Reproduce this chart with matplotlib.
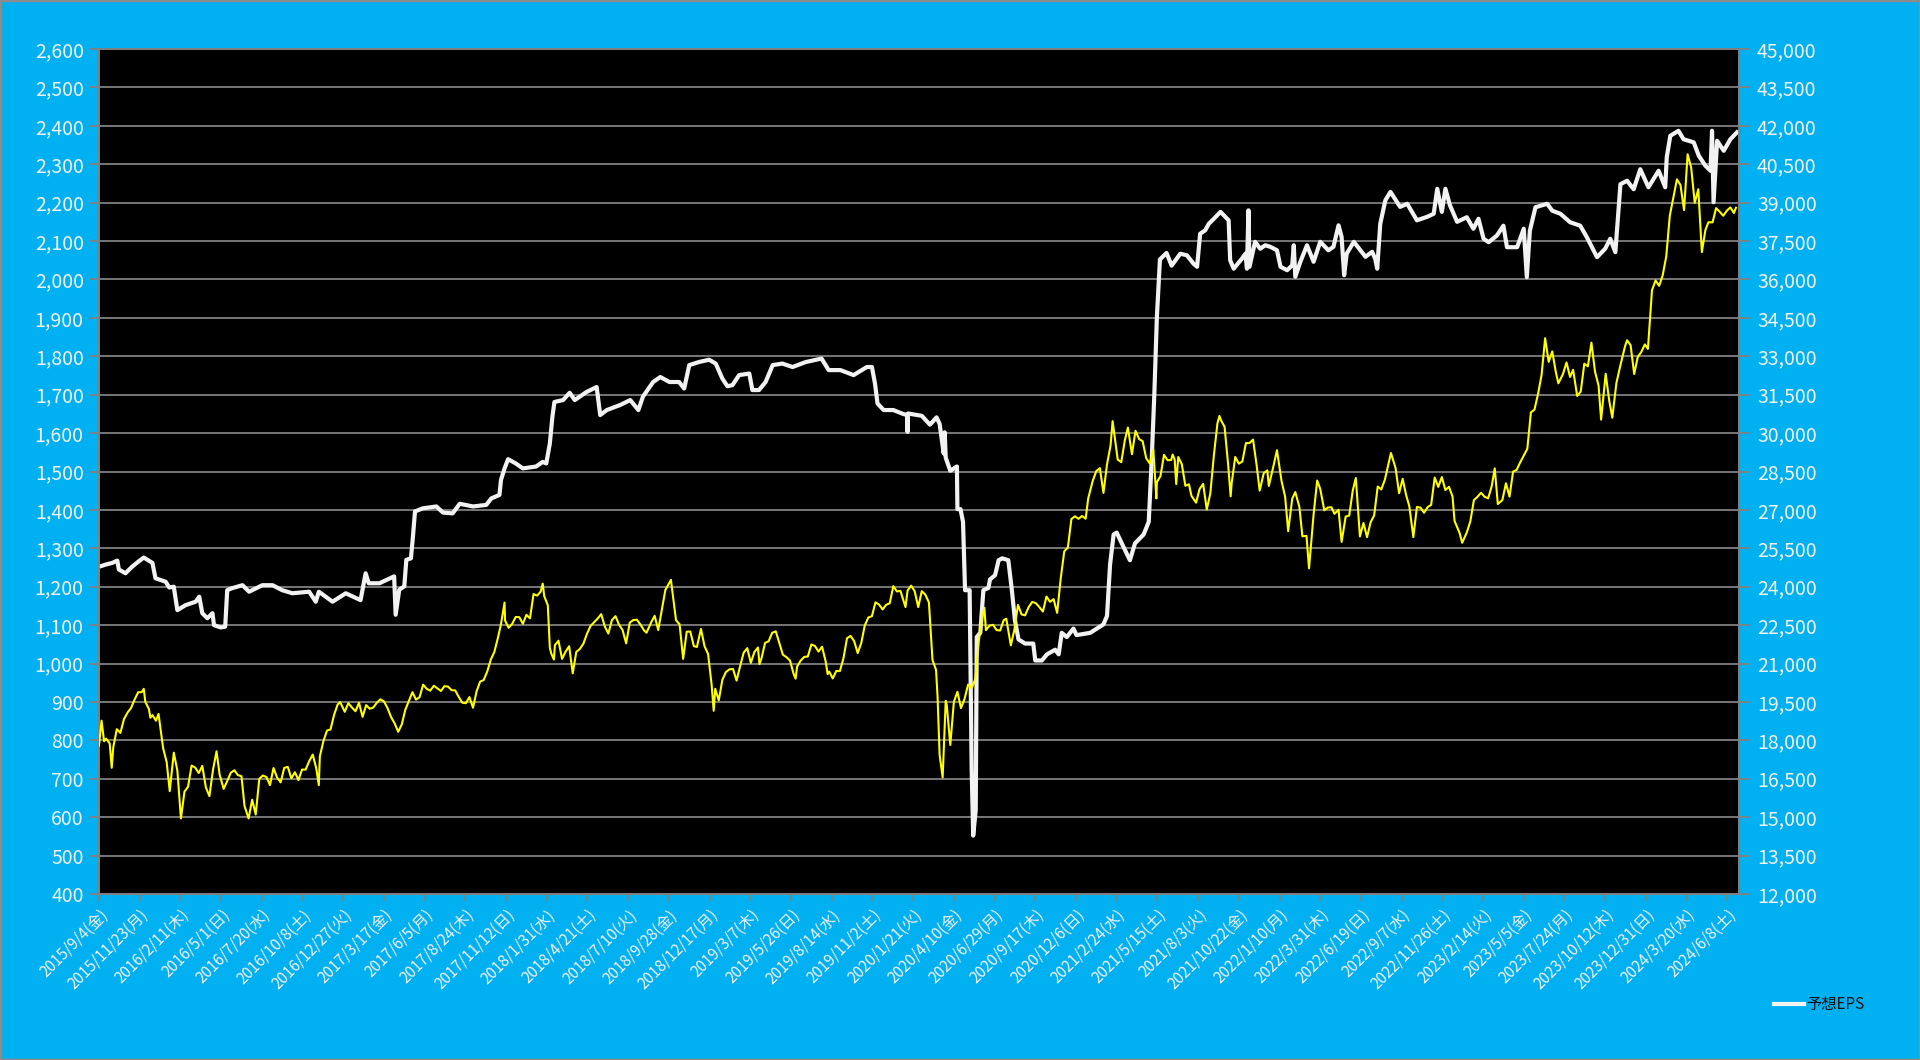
import matplotlib
matplotlib.use("Agg")
import matplotlib.pyplot as plt
from matplotlib.ticker import FixedLocator, FuncFormatter
from matplotlib.patches import Rectangle
import pandas as pd

# ---------------- data ----------------
eps_dates = [
    "2015-09-04", "2015-09-18", "2015-09-30", "2015-10-10", "2015-10-13", "2015-10-26", "2015-11-08", "2015-11-20",
    "2015-12-01", "2015-12-18", "2015-12-24", "2016-01-13", "2016-01-20", "2016-01-29", "2016-02-05", "2016-02-21",
    "2016-03-12", "2016-03-19", "2016-03-25", "2016-04-04", "2016-04-14", "2016-04-17", "2016-04-30", "2016-05-09",
    "2016-05-13", "2016-05-22", "2016-06-12", "2016-06-25", "2016-07-21", "2016-08-10", "2016-08-29", "2016-09-18",
    "2016-10-21", "2016-11-03", "2016-11-09", "2016-12-06", "2017-01-01", "2017-01-30", "2017-02-09", "2017-02-15",
    "2017-03-08", "2017-03-29", "2017-04-06", "2017-04-09", "2017-04-16", "2017-04-26", "2017-04-30", "2017-05-09",
    "2017-05-13", "2017-05-17", "2017-06-01", "2017-06-28", "2017-07-11", "2017-07-30", "2017-08-13", "2017-09-08",
    "2017-10-04", "2017-10-14", "2017-10-30", "2017-11-02", "2017-11-09", "2017-11-16", "2017-12-01", "2017-12-15",
    "2018-01-10", "2018-01-23", "2018-01-30", "2018-02-06", "2018-02-11", "2018-02-15", "2018-03-04", "2018-03-17",
    "2018-03-27", "2018-04-19", "2018-05-09", "2018-05-16", "2018-05-29", "2018-06-24", "2018-07-14", "2018-07-30",
    "2018-08-08", "2018-08-28", "2018-09-11", "2018-09-29", "2018-10-18", "2018-10-28", "2018-11-07", "2018-11-26",
    "2018-12-16", "2018-12-29", "2019-01-11", "2019-01-21", "2019-01-31", "2019-02-13", "2019-03-05", "2019-03-11",
    "2019-03-24", "2019-04-06", "2019-04-20", "2019-05-09", "2019-05-29", "2019-06-24", "2019-07-25", "2019-08-08",
    "2019-08-31", "2019-09-26", "2019-10-22", "2019-11-01", "2019-11-07", "2019-11-12", "2019-11-24", "2019-12-13",
    "2020-01-01", "2020-01-09", "2020-01-10", "2020-01-11", "2020-02-07", "2020-02-23", "2020-03-07", "2020-03-13",
    "2020-03-21", "2020-03-23", "2020-03-25", "2020-04-03", "2020-04-16", "2020-04-17", "2020-04-23", "2020-04-28",
    "2020-05-02", "2020-05-11", "2020-05-15", "2020-05-18", "2020-05-23", "2020-05-25", "2020-06-01", "2020-06-07",
    "2020-06-17", "2020-06-20", "2020-06-30", "2020-07-07", "2020-07-14", "2020-07-26", "2020-08-02", "2020-08-08",
    "2020-08-15", "2020-08-28", "2020-09-13", "2020-09-17", "2020-09-30", "2020-10-10", "2020-10-26", "2020-11-02",
    "2020-11-08", "2020-11-18", "2020-12-01", "2020-12-07", "2021-01-03", "2021-01-16", "2021-01-29", "2021-02-05",
    "2021-02-11", "2021-02-18", "2021-02-24", "2021-03-06", "2021-03-22", "2021-04-01", "2021-04-18", "2021-04-28",
    "2021-05-04", "2021-05-09", "2021-05-14", "2021-05-20", "2021-06-02", "2021-06-12", "2021-06-29", "2021-07-12",
    "2021-07-25", "2021-08-01", "2021-08-07", "2021-08-17", "2021-08-24", "2021-09-03", "2021-09-16", "2021-10-02",
    "2021-10-05", "2021-10-12", "2021-10-28", "2021-11-04", "2021-11-07", "2021-11-10", "2021-11-12", "2021-11-23",
    "2021-12-03", "2021-12-13", "2021-12-23", "2022-01-05", "2022-01-12", "2022-01-25", "2022-02-04", "2022-02-07",
    "2022-02-10", "2022-02-20", "2022-03-05", "2022-03-18", "2022-03-31", "2022-04-16", "2022-04-26", "2022-05-06",
    "2022-05-12", "2022-05-17", "2022-05-22", "2022-06-05", "2022-06-18", "2022-06-28", "2022-07-11", "2022-07-17",
    "2022-07-21", "2022-07-27", "2022-08-06", "2022-08-16", "2022-09-04", "2022-09-18", "2022-10-07", "2022-10-27",
    "2022-11-09", "2022-11-16", "2022-11-25", "2022-12-02", "2022-12-11", "2022-12-25", "2023-01-13", "2023-01-26",
    "2023-02-05", "2023-02-15", "2023-02-25", "2023-03-13", "2023-03-26", "2023-04-02", "2023-04-22", "2023-05-05",
    "2023-05-11", "2023-05-17", "2023-05-28", "2023-06-20", "2023-06-30", "2023-07-16", "2023-08-04", "2023-08-24",
    "2023-09-06", "2023-09-26", "2023-10-12", "2023-10-22", "2023-11-01", "2023-11-11", "2023-11-24", "2023-12-07",
    "2023-12-20", "2024-01-05", "2024-01-25", "2024-02-07", "2024-02-10", "2024-02-17", "2024-03-04", "2024-03-14",
    "2024-04-03", "2024-04-13", "2024-04-26", "2024-05-06", "2024-05-09", "2024-05-12", "2024-05-19", "2024-06-01",
    "2024-06-14", "2024-06-27",
]
eps_values = [
    1252, 1258, 1262, 1268, 1245, 1235, 1252, 1265,
    1276, 1262, 1222, 1213, 1198, 1200, 1139, 1152,
    1161, 1174, 1131, 1118, 1131, 1100, 1094, 1096,
    1191, 1196, 1204, 1187, 1204, 1204, 1191, 1183,
    1187, 1161, 1187, 1161, 1183, 1165, 1235, 1209,
    1209, 1222, 1227, 1127, 1192, 1201, 1270, 1274,
    1331, 1396, 1404, 1409, 1393, 1391, 1416, 1409,
    1413, 1430, 1439, 1478, 1508, 1532, 1521, 1508,
    1513, 1525, 1521, 1573, 1642, 1681, 1686, 1705,
    1686, 1707, 1720, 1647, 1660, 1673, 1686, 1660,
    1695, 1733, 1746, 1733, 1733, 1716, 1777, 1785,
    1791, 1781, 1742, 1722, 1725, 1751, 1755, 1712,
    1712, 1733, 1777, 1781, 1772, 1785, 1794, 1764,
    1764, 1751, 1772, 1772, 1729, 1677, 1660, 1660,
    1650, 1647, 1603, 1651, 1645, 1622, 1641, 1624,
    1547, 1602, 1536, 1502, 1513, 1402, 1402, 1369,
    1191, 1191, 724, 552, 619, 1069, 1080, 1191,
    1197, 1219, 1230, 1269, 1274, 1269, 1191, 1113,
    1063, 1052, 1052, 1008, 1008, 1024, 1036, 1024,
    1080, 1069, 1091, 1074, 1080, 1091, 1102, 1124,
    1258, 1336, 1341, 1313, 1269, 1313, 1336, 1369,
    1536, 1702, 1902, 2052, 2069, 2036, 2067, 2063,
    2041, 2033, 2119, 2128, 2145, 2158, 2176, 2154,
    2050, 2028, 2054, 2067, 2028, 2180, 2033, 2098,
    2080, 2089, 2085, 2076, 2033, 2024, 2037, 2089,
    2007, 2046, 2089, 2046, 2098, 2076, 2085, 2141,
    2111, 2011, 2067, 2098, 2076, 2059, 2072, 2054,
    2028, 2145, 2206, 2228, 2189, 2197, 2154, 2163,
    2171, 2236, 2176, 2236, 2193, 2150, 2162, 2132,
    2158, 2106, 2097, 2114, 2140, 2084, 2084, 2132,
    2006, 2127, 2188, 2197, 2179, 2171, 2149, 2140,
    2110, 2058, 2080, 2106, 2071, 2248, 2257, 2235,
    2287, 2240, 2283, 2240, 2318, 2374, 2387, 2365,
    2357, 2322, 2296, 2283, 2387, 2201, 2361, 2335,
    2365, 2383,
]

nikkei_dates = [
    "2015-09-04", "2015-09-09", "2015-09-14", "2015-09-18", "2015-09-25", "2015-09-29",
    "2015-10-02", "2015-10-09", "2015-10-16", "2015-10-23", "2015-10-30", "2015-11-06",
    "2015-11-13", "2015-11-20", "2015-11-27", "2015-12-01", "2015-12-04", "2015-12-11",
    "2015-12-14", "2015-12-18", "2015-12-25", "2015-12-30", "2016-01-08", "2016-01-15",
    "2016-01-21", "2016-01-29", "2016-02-05", "2016-02-12", "2016-02-19", "2016-02-26",
    "2016-03-04", "2016-03-11", "2016-03-18", "2016-03-25", "2016-04-01", "2016-04-08",
    "2016-04-15", "2016-04-22", "2016-04-28", "2016-05-06", "2016-05-13", "2016-05-20",
    "2016-05-27", "2016-06-03", "2016-06-10", "2016-06-16", "2016-06-24", "2016-07-01",
    "2016-07-08", "2016-07-15", "2016-07-22", "2016-07-29", "2016-08-05", "2016-08-12",
    "2016-08-19", "2016-08-26", "2016-09-02", "2016-09-09", "2016-09-16", "2016-09-23",
    "2016-09-30", "2016-10-07", "2016-10-14", "2016-10-21", "2016-10-28", "2016-11-04",
    "2016-11-09", "2016-11-11", "2016-11-18", "2016-11-25", "2016-12-02", "2016-12-09",
    "2016-12-16", "2016-12-21", "2016-12-30", "2017-01-06", "2017-01-13", "2017-01-20",
    "2017-01-27", "2017-02-03", "2017-02-10", "2017-02-17", "2017-02-24", "2017-03-03",
    "2017-03-10", "2017-03-17", "2017-03-24", "2017-03-31", "2017-04-07", "2017-04-14",
    "2017-04-21", "2017-04-28", "2017-05-12", "2017-05-19", "2017-05-26", "2017-06-02",
    "2017-06-09", "2017-06-16", "2017-06-23", "2017-06-30", "2017-07-07", "2017-07-14",
    "2017-07-21", "2017-07-28", "2017-08-04", "2017-08-10", "2017-08-18", "2017-08-25",
    "2017-09-01", "2017-09-08", "2017-09-15", "2017-09-22", "2017-09-29", "2017-10-06",
    "2017-10-13", "2017-10-20", "2017-10-27", "2017-11-02", "2017-11-09", "2017-11-10",
    "2017-11-17", "2017-11-24", "2017-12-01", "2017-12-08", "2017-12-15", "2017-12-22",
    "2017-12-29", "2018-01-05", "2018-01-12", "2018-01-19", "2018-01-23", "2018-01-26",
    "2018-02-02", "2018-02-06", "2018-02-09", "2018-02-14", "2018-02-16", "2018-02-23",
    "2018-03-02", "2018-03-09", "2018-03-16", "2018-03-23", "2018-03-30", "2018-04-06",
    "2018-04-13", "2018-04-20", "2018-04-27", "2018-05-11", "2018-05-18", "2018-05-25",
    "2018-06-01", "2018-06-08", "2018-06-15", "2018-06-22", "2018-06-29", "2018-07-06",
    "2018-07-13", "2018-07-20", "2018-07-27", "2018-08-03", "2018-08-10", "2018-08-15",
    "2018-08-24", "2018-08-31", "2018-09-07", "2018-09-14", "2018-09-21", "2018-09-28",
    "2018-10-02", "2018-10-05", "2018-10-12", "2018-10-19", "2018-10-26", "2018-11-02",
    "2018-11-09", "2018-11-16", "2018-11-22", "2018-11-30", "2018-12-07", "2018-12-14",
    "2018-12-21", "2018-12-25", "2018-12-28", "2019-01-04", "2019-01-11", "2019-01-18",
    "2019-01-25", "2019-02-01", "2019-02-08", "2019-02-15", "2019-02-22", "2019-03-01",
    "2019-03-08", "2019-03-15", "2019-03-22", "2019-03-25", "2019-03-29", "2019-04-05",
    "2019-04-12", "2019-04-19", "2019-04-26", "2019-05-10", "2019-05-17", "2019-05-24",
    "2019-05-31", "2019-06-04", "2019-06-07", "2019-06-14", "2019-06-21", "2019-06-28",
    "2019-07-05", "2019-07-12", "2019-07-19", "2019-07-26", "2019-08-02", "2019-08-06",
    "2019-08-09", "2019-08-16", "2019-08-23", "2019-08-30", "2019-09-06", "2019-09-13",
    "2019-09-20", "2019-09-27", "2019-10-04", "2019-10-11", "2019-10-18", "2019-10-25",
    "2019-11-01", "2019-11-08", "2019-11-15", "2019-11-22", "2019-11-29", "2019-12-06",
    "2019-12-13", "2019-12-20", "2019-12-27", "2020-01-06", "2020-01-10", "2020-01-17",
    "2020-01-24", "2020-01-31", "2020-02-07", "2020-02-14", "2020-02-21", "2020-02-28",
    "2020-03-06", "2020-03-09", "2020-03-13", "2020-03-19", "2020-03-25", "2020-03-27",
    "2020-04-03", "2020-04-10", "2020-04-17", "2020-04-24", "2020-05-01", "2020-05-08",
    "2020-05-15", "2020-05-22", "2020-05-29", "2020-06-05", "2020-06-09", "2020-06-12",
    "2020-06-19", "2020-06-26", "2020-07-03", "2020-07-10", "2020-07-17", "2020-07-22",
    "2020-07-31", "2020-08-07", "2020-08-14", "2020-08-21", "2020-08-28", "2020-09-04",
    "2020-09-11", "2020-09-18", "2020-09-25", "2020-10-02", "2020-10-09", "2020-10-16",
    "2020-10-23", "2020-10-30", "2020-11-06", "2020-11-13", "2020-11-20", "2020-11-27",
    "2020-12-04", "2020-12-11", "2020-12-18", "2020-12-25", "2020-12-30", "2021-01-08",
    "2021-01-15", "2021-01-22", "2021-01-29", "2021-02-05", "2021-02-12", "2021-02-16",
    "2021-02-19", "2021-02-26", "2021-03-05", "2021-03-12", "2021-03-18", "2021-03-26",
    "2021-04-02", "2021-04-09", "2021-04-16", "2021-04-23", "2021-04-30", "2021-05-07",
    "2021-05-13", "2021-05-14", "2021-05-21", "2021-05-28", "2021-06-04", "2021-06-11",
    "2021-06-14", "2021-06-18", "2021-06-21", "2021-06-25", "2021-07-02", "2021-07-09",
    "2021-07-16", "2021-07-21", "2021-07-30", "2021-08-06", "2021-08-13", "2021-08-20",
    "2021-08-27", "2021-09-03", "2021-09-10", "2021-09-14", "2021-09-17", "2021-09-24",
    "2021-10-01", "2021-10-06", "2021-10-08", "2021-10-15", "2021-10-22", "2021-10-29",
    "2021-11-05", "2021-11-12", "2021-11-19", "2021-11-26", "2021-12-02", "2021-12-10",
    "2021-12-17", "2021-12-20", "2021-12-30", "2022-01-05", "2022-01-14", "2022-01-21",
    "2022-01-27", "2022-02-04", "2022-02-10", "2022-02-18", "2022-02-24", "2022-03-04",
    "2022-03-09", "2022-03-18", "2022-03-25", "2022-03-31", "2022-04-08", "2022-04-15",
    "2022-04-22", "2022-04-28", "2022-05-06", "2022-05-12", "2022-05-20", "2022-05-27",
    "2022-06-03", "2022-06-09", "2022-06-17", "2022-06-24", "2022-07-01", "2022-07-08",
    "2022-07-15", "2022-07-22", "2022-07-29", "2022-08-05", "2022-08-17", "2022-08-26",
    "2022-09-02", "2022-09-09", "2022-09-16", "2022-09-22", "2022-09-30", "2022-10-07",
    "2022-10-14", "2022-10-21", "2022-10-28", "2022-11-04", "2022-11-11", "2022-11-18",
    "2022-11-25", "2022-12-02", "2022-12-09", "2022-12-16", "2022-12-20", "2022-12-30",
    "2023-01-04", "2023-01-13", "2023-01-20", "2023-01-27", "2023-02-03", "2023-02-10",
    "2023-02-17", "2023-02-24", "2023-03-03", "2023-03-09", "2023-03-15", "2023-03-24",
    "2023-03-31", "2023-04-07", "2023-04-14", "2023-04-21", "2023-04-28", "2023-05-12",
    "2023-05-19", "2023-05-26", "2023-06-02", "2023-06-09", "2023-06-16", "2023-06-23",
    "2023-06-30", "2023-07-07", "2023-07-12", "2023-07-21", "2023-07-28", "2023-08-04",
    "2023-08-10", "2023-08-18", "2023-08-25", "2023-09-01", "2023-09-08", "2023-09-15",
    "2023-09-22", "2023-09-29", "2023-10-04", "2023-10-13", "2023-10-20", "2023-10-26",
    "2023-11-03", "2023-11-10", "2023-11-20", "2023-11-24", "2023-12-01", "2023-12-08",
    "2023-12-15", "2023-12-22", "2023-12-29", "2024-01-04", "2024-01-12", "2024-01-19",
    "2024-01-26", "2024-02-02", "2024-02-09", "2024-02-16", "2024-02-22", "2024-03-01",
    "2024-03-08", "2024-03-15", "2024-03-22", "2024-03-29", "2024-04-05", "2024-04-12",
    "2024-04-19", "2024-04-26", "2024-05-02", "2024-05-10", "2024-05-17", "2024-05-24",
    "2024-05-31", "2024-06-07", "2024-06-14", "2024-06-21", "2024-06-25",
]
nikkei_values = [
    17792, 18770, 17965, 18070, 17880, 16930,
    17725, 18438, 18291, 18825, 19083, 19265,
    19597, 19879, 19883, 20012, 19504, 19230,
    18883, 18986, 18769, 19033, 17697, 17147,
    16017, 17518, 16819, 14952, 16000, 16188,
    17014, 16938, 16724, 17002, 16164, 15821,
    16848, 17572, 16666, 16106, 16412, 16736,
    16834, 16642, 16601, 15434, 14952, 15682,
    15106, 16497, 16627, 16569, 16254, 16919,
    16545, 16360, 16925, 16965, 16519, 16754,
    16449, 16860, 16856, 17184, 17446, 16905,
    16251, 17374, 17967, 18381, 18426, 18996,
    19401, 19494, 19114, 19454, 19287, 19137,
    19467, 18918, 19378, 19235, 19283, 19469,
    19604, 19521, 19262, 18909, 18664, 18335,
    18620, 19197, 19883, 19590, 19686, 20177,
    20013, 19943, 20132, 20033, 19929, 20118,
    20099, 19959, 19952, 19729, 19470, 19452,
    19691, 19274, 19909, 20296, 20356, 20690,
    21155, 21457, 22008, 22539, 23382, 22681,
    22396, 22550, 22819, 22811, 22553, 22902,
    22765, 23714, 23653, 23808, 24124, 23632,
    23275, 21610, 21383, 21154, 21720, 21893,
    21182, 21469, 21676, 20618, 21454, 21568,
    21779, 22162, 22468, 22758, 22930, 22451,
    22171, 22695, 22851, 22516, 22305, 21788,
    22597, 22698, 22712, 22525, 22298, 22204,
    22601, 22865, 22307, 23094, 23870, 24120,
    24270, 23784, 22694, 22532, 21184, 22243,
    22250, 21680, 21646, 22351, 21679, 21374,
    20166, 19155, 20015, 19562, 20360, 20666,
    20774, 20788, 20333, 20901, 21426, 21602,
    21025, 21451, 21627, 20977, 21206, 21807,
    21870, 22200, 22259, 21345, 21250, 21117,
    20601, 20409, 20885, 21117, 21259, 21276,
    21746, 21686, 21467, 21658, 21087, 20585,
    20685, 20418, 20711, 20704, 21200, 21988,
    22079, 21879, 21410, 21799, 22493, 22800,
    22851, 23392, 23303, 23113, 23294, 23354,
    24023, 23816, 23837, 23205, 23850, 24041,
    23827, 23205, 23827, 23687, 23386, 21142,
    20749, 19698, 17431, 16552, 19546, 19389,
    17820, 19498, 19897, 19262, 19619, 20179,
    20037, 20388, 21877, 22863, 23178, 22305,
    22478, 22512, 22306, 22290, 22696, 22751,
    21710, 22329, 23289, 22920, 22882, 23205,
    23406, 23360, 23205, 23029, 23619, 23410,
    23516, 22977, 24325, 25385, 25527, 26644,
    26751, 26652, 26763, 26656, 27444, 28139,
    28519, 28631, 27663, 28779, 29520, 30467,
    30018, 28966, 28864, 29717, 30216, 29176,
    30089, 29768, 29683, 29020, 28812, 29357,
    27448, 28084, 28317, 29149, 28941, 28948,
    29161, 28964, 28010, 29066, 28783, 27940,
    28003, 27548, 27283, 27820, 28015, 27013,
    27641, 29128, 30382, 30670, 30500, 30249,
    28771, 27528, 28049, 29068, 28805, 28892,
    29611, 29610, 29746, 28751, 27753, 28437,
    28545, 27937, 28791, 29332, 28124, 27522,
    26170, 27439, 27696, 27122, 25970, 25985,
    24717, 26827, 28149, 27821, 26985, 27093,
    27105, 26847, 27003, 25748, 26739, 26781,
    27761, 28246, 25963, 26491, 25935, 26517,
    26788, 27914, 27801, 28175, 29222, 28641,
    27650, 28214, 27567, 27153, 25937, 27116,
    27090, 26890, 27105, 27199, 28263, 27899,
    28283, 27777, 27901, 27527, 26568, 26094,
    25716, 26119, 26553, 27382, 27509, 27670,
    27513, 27453, 27927, 28623, 27229, 27385,
    28041, 27518, 28493, 28564, 28856, 29388,
    30808, 30916, 31524, 32265, 33706, 32781,
    33189, 32388, 31943, 32304, 32759, 32192,
    32473, 31450, 31624, 32710, 32606, 33533,
    32402, 31857, 30526, 32315, 31259, 30601,
    31949, 32568, 33388, 33625, 33431, 32307,
    32970, 33169, 33464, 33288, 35577, 35963,
    35751, 36158, 36897, 38487, 39098, 39910,
    39688, 38707, 40888, 40369, 38992, 39523,
    37068, 37934, 38236, 38229, 38787, 38646,
    38487, 38683, 38814, 38596, 38800,
]

series_labels = ["予想EPS", "日経平均"]
tick_start = "2015-09-04"
tick_step_days = 80
tick_count = 41
x_end = "2024-07-01"
left_range = (400, 2600, 100)
right_range = (12000, 45000, 1500)
weekday_jp = ["月", "火", "水", "木", "金", "土", "日"]

assert len(eps_dates) == len(eps_values)
assert len(nikkei_dates) == len(nikkei_values)

# ---------------- style ----------------
FONT = ["Noto Sans CJK JP", "DejaVu Sans"]
plt.rcParams["font.family"] = FONT
BG = "#00B0F0"
TXT = "#F2F2F2"
GRID = "#808080"

fig = plt.figure(figsize=(19.2, 10.6), dpi=100, facecolor=BG)
ax = fig.add_axes([99 / 1920, 1 - 894 / 1060, 1640 / 1920, 845 / 1060])
ax.set_facecolor("black")
ax2 = ax.twinx()

ed = pd.to_datetime(eps_dates)
nd = pd.to_datetime(nikkei_dates)

l1, = ax.plot(ed, eps_values, color="#F2F2F2", lw=3.0, solid_joinstyle="round", zorder=3,
              label=series_labels[0])
l2, = ax2.plot(nd, nikkei_values, color="#FFFF00", lw=1.5, zorder=3, label=series_labels[1])

ax.set_ylim(left_range[0], left_range[1])
ax2.set_ylim(right_range[0], right_range[1])
lt = list(range(left_range[0], left_range[1] + 1, left_range[2]))
rt = list(range(right_range[0], right_range[1] + 1, right_range[2]))
ax.yaxis.set_major_locator(FixedLocator(lt))
ax2.yaxis.set_major_locator(FixedLocator(rt))
fmt = FuncFormatter(lambda v, p: f"{int(round(v)):,}")
ax.yaxis.set_major_formatter(fmt)
ax2.yaxis.set_major_formatter(fmt)

ticks = pd.date_range(tick_start, periods=tick_count, freq=f"{tick_step_days}D")
ax.set_xlim(pd.Timestamp(tick_start), pd.Timestamp(x_end))
ax.set_xticks(ticks)
ax.set_xticklabels([f"{d.year}/{d.month}/{d.day}({weekday_jp[d.weekday()]})" for d in ticks],
                   rotation=45, ha="right", va="top", rotation_mode="anchor")

ax.grid(axis="y", color=GRID, lw=1.3, zorder=1)
ax.grid(axis="x", visible=False)
ax.set_axisbelow(True)

for a in (ax, ax2):
    for s in a.spines.values():
        s.set_color(GRID)
        s.set_linewidth(1.3)
ax.tick_params(axis="y", colors=GRID, labelcolor=TXT, labelsize=14, length=7, width=1.3, pad=4)
ax2.tick_params(axis="y", colors=GRID, labelcolor=TXT, labelsize=14, length=7, width=1.3, pad=6)
ax.tick_params(axis="x", colors=GRID, labelcolor=TXT, labelsize=11, length=5, width=1.3, pad=4)

ax2.patch.set_visible(False)

fig.legend(handles=[l1], labels=[series_labels[0]], loc="center left",
           bbox_to_anchor=(1760 / 1920, 1 - 1005 / 1060), frameon=False,
           handlelength=2.0, handletextpad=0.15, fontsize=11, labelcolor="#111111")

fig.patches.append(Rectangle((0, 0), 1, 1, transform=fig.transFigure, fill=False,
                             edgecolor="#8C8C8C", lw=2.5, zorder=10))

fig.savefig("out.png", dpi=100, facecolor=BG)
